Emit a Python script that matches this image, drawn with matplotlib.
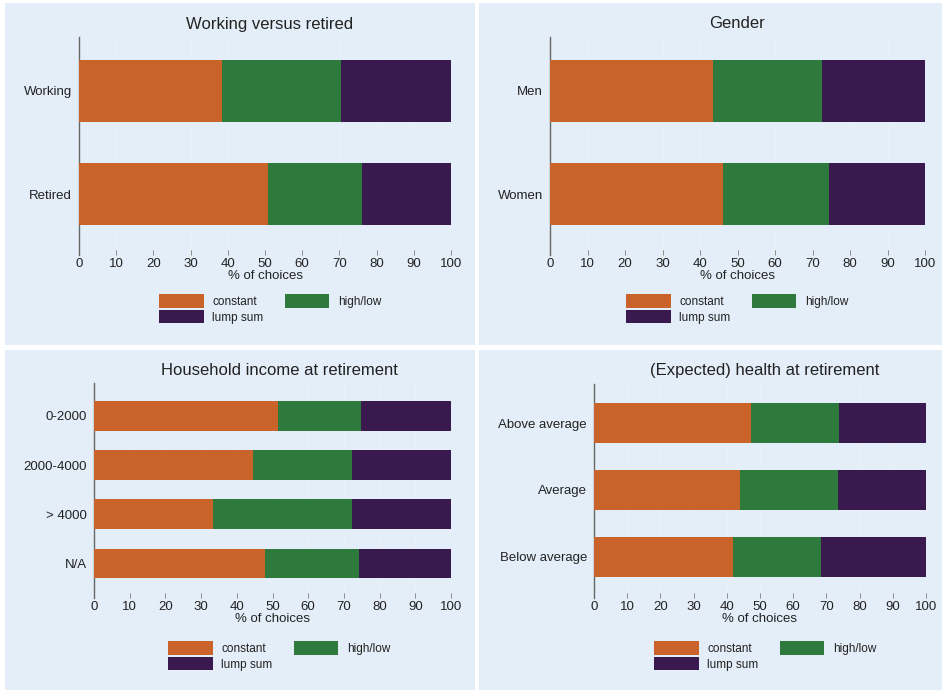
import matplotlib
matplotlib.use("Agg")
import matplotlib.pyplot as plt
from matplotlib.patches import Rectangle, Patch

plt.rcParams['font.family'] = ['Liberation Sans', 'DejaVu Sans']

# data (% of choices)
series = ["constant", "high/low", "lump sum"]
colors = ["#c9632a", "#2e7a3c", "#3a1a4e"]

work_cats = ["Working", "Retired"]
work_const = [38.4, 50.8]
work_hilo = [32.0, 25.3]
work_lump = [29.6, 23.9]

gender_cats = ["Men", "Women"]
gender_const = [43.5, 46.1]
gender_hilo = [29.0, 28.3]
gender_lump = [27.5, 25.6]

income_cats = ["0-2000", "2000-4000", "> 4000", "N/A"]
income_const = [51.5, 44.5, 33.3, 47.9]
income_hilo = [23.3, 27.8, 39.0, 26.3]
income_lump = [25.2, 27.7, 27.7, 25.8]

health_cats = ["Above average", "Average", "Below average"]
health_const = [47.3, 44.0, 41.9]
health_hilo = [26.5, 29.5, 26.5]
health_lump = [26.2, 26.5, 31.6]

titles = ["Working versus retired", "Gender",
          "Household income at retirement", "(Expected) health at retirement"]

W, H = 942, 690
BG = "#e4eef8"

fig = plt.figure(figsize=(W / 100, H / 100), dpi=100, facecolor="white")


def px_rect(x0, y0, x1, y1):
    # pixel box (top-left origin) -> figure fraction [l, b, w, h]
    return [x0 / W, (H - y1) / H, (x1 - x0) / W, (y1 - y0) / H]


# panel backgrounds
for box in [(5, 3, 475, 345), (479, 3, 942, 345),
            (5, 350, 475, 690), (479, 350, 942, 690)]:
    l, b, w, h = px_rect(*box)
    fig.patches.append(Rectangle((l, b), w, h, transform=fig.transFigure,
                                 facecolor=BG, edgecolor="none", zorder=-5))

panels = [
    (work_cats, [work_const, work_hilo, work_lump], (79, 37, 451, 255), (1.59, -0.52), 270, 24, 309),
    (gender_cats, [gender_const, gender_hilo, gender_lump], (550, 37, 925, 255), (1.59, -0.52), 737, 24, 309),
    (income_cats, [income_const, income_hilo, income_lump], (94, 383, 451, 598), (3.70, -0.665), 279, 370, 656),
    (health_cats, [health_const, health_hilo, health_lump], (594, 384, 926, 598), (2.62, -0.585), 765, 370, 656),
]

for i, (cats, vals, box, ylim, cx, ty, ly) in enumerate(panels):
    ax = fig.add_axes(px_rect(*box))
    ax.set_zorder(2)
    ax.set_facecolor("none")
    ypos = list(range(len(cats)))
    left = [0] * len(cats)
    for s, v, c in zip(series, vals, colors):
        ax.barh(ypos, v, left=left, height=0.6, color=c, edgecolor="none", zorder=3)
        left = [a + b for a, b in zip(left, v)]
    ax.set_xlim(0, 100)
    ax.set_ylim(*ylim)
    ax.set_xticks(range(0, 101, 10))
    ax.set_yticks(ypos)
    ax.set_yticklabels(cats)
    ax.xaxis.grid(True, color="#e9f1f9", lw=0.7, zorder=1)
    for sp in ["top", "right", "bottom"]:
        ax.spines[sp].set_visible(False)
    ax.spines["left"].set_color("#666666")
    ax.spines["left"].set_linewidth(1.0)
    ax.tick_params(axis="x", direction="in", length=3.5, width=0.7,
                   color="#8a8a8a", pad=2, labelsize=9.5, labelcolor="#222222")
    ax.tick_params(axis="y", length=0, pad=5, labelsize=9.5, labelcolor="#222222")
    ax.set_xlabel("% of choices", fontsize=9.5, labelpad=0.5, color="#222222")

    fig.text(cx / W, 1 - ty / H, titles[i], ha="center", va="center",
             fontsize=12, color="#222222")

    handles = [Patch(facecolor=c, edgecolor="none") for c in colors]
    order = [0, 2, 1]
    fig.legend([handles[k] for k in order], [series[k] for k in order],
               loc="center", bbox_to_anchor=(cx / W, 1 - ly / H), ncol=2,
               frameon=False, fontsize=8.5, handlelength=3.8, handleheight=1.35,
               handletextpad=0.7, columnspacing=1.8, labelspacing=0.2,
               borderpad=0, labelcolor="#222222")

fig.savefig("out.png", dpi=100, facecolor="white")
